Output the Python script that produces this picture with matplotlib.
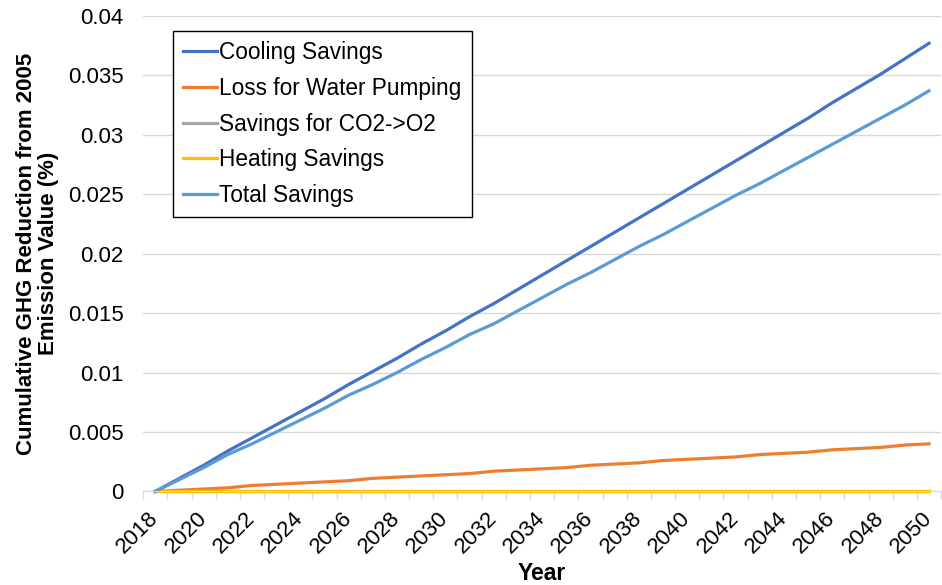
import matplotlib.pyplot as plt
import numpy as np

plt.rcParams['font.family'] = ['Liberation Sans', 'DejaVu Sans']

years = list(range(2018, 2051))

cooling = [0, 0.0011, 0.0022, 0.0034, 0.0045, 0.0056, 0.0067, 0.0078, 0.0090, 0.0101,
           0.0112, 0.0124, 0.0135, 0.0147, 0.0158, 0.0170, 0.0182, 0.0194, 0.0206, 0.0218,
           0.0230, 0.0242, 0.0254, 0.0266, 0.0278, 0.0290, 0.0302, 0.0314, 0.0327, 0.0339,
           0.0351, 0.0364, 0.0377]
pumping = [0, 0.0001, 0.0002, 0.0003, 0.0005, 0.0006, 0.0007, 0.0008, 0.0009, 0.0011,
           0.0012, 0.0013, 0.0014, 0.0015, 0.0017, 0.0018, 0.0019, 0.0020, 0.0022, 0.0023,
           0.0024, 0.0026, 0.0027, 0.0028, 0.0029, 0.0031, 0.0032, 0.0033, 0.0035, 0.0036,
           0.0037, 0.0039, 0.0040]
co2_o2 = [0] * 33
heating = [0] * 33
total = [0, 0.0010, 0.0020, 0.0031, 0.0040, 0.0050, 0.0060, 0.0070, 0.0081, 0.0090,
         0.0100, 0.0111, 0.0121, 0.0132, 0.0141, 0.0152, 0.0163, 0.0174, 0.0184, 0.0195,
         0.0206, 0.0216, 0.0227, 0.0238, 0.0249, 0.0259, 0.0270, 0.0281, 0.0292, 0.0303,
         0.0314, 0.0325, 0.0337]

x = np.arange(len(years))

fig = plt.figure(figsize=(9.42, 5.85), dpi=100)
ax = fig.add_axes([0.152, 0.16, 0.847, 0.8127])

lw = 2.3
ax.plot(x, cooling, c='#4472C4', lw=lw, label='Cooling Savings', clip_on=False)
ax.plot(x, pumping, c='#ED7D31', lw=lw, label='Loss for Water Pumping', clip_on=False)
ax.plot(x, co2_o2, c='#A5A5A5', lw=lw, label='Savings for CO2->O2', clip_on=False)
ax.plot(x, heating, c='#FFC000', lw=lw, label='Heating Savings', clip_on=False)
ax.plot(x, total, c='#5B9BD5', lw=lw, label='Total Savings', clip_on=False)

ax.set_xlim(-0.5, len(years) - 0.5)
ax.set_ylim(0, 0.04)

yt = [0, 0.005, 0.01, 0.015, 0.02, 0.025, 0.03, 0.035, 0.04]
ax.set_yticks(yt)
ax.set_yticklabels(['0', '0.005', '0.01', '0.015', '0.02', '0.025', '0.03', '0.035', '0.04'])
ax.tick_params(axis='y', length=0, pad=14, labelsize=16)

ax.set_xticks(x[::2])
ax.set_xticklabels([str(y) for y in years[::2]], rotation=45, ha='right',
                   va='center', rotation_mode='anchor')
ax.set_xticks(np.arange(-0.5, len(years), 1), minor=True)
ax.tick_params(axis='x', which='major', length=0, pad=17, labelsize=16)
ax.tick_params(axis='x', which='minor', length=6, color='#D9D9D9', width=1)

ax.grid(axis='y', color='#D9D9D9', lw=1)
ax.set_axisbelow(True)
for s in ['top', 'right', 'left']:
    ax.spines[s].set_visible(False)
ax.spines['bottom'].set_color('#D9D9D9')

ax.set_ylabel('Cumulative GHG Reduction from 2005\nEmission Value (%)',
              fontsize=16, fontweight='bold', linespacing=1.1)
ax.yaxis.set_label_coords(-0.105, 0.5)
ax.set_xlabel('Year', fontsize=16.5, fontweight='bold')
ax.xaxis.set_label_coords(0.5, -0.148)

leg = ax.legend(loc='upper left', bbox_to_anchor=(0.037, 0.968), fontsize=16.3,
                frameon=True, fancybox=False, edgecolor='black', framealpha=1,
                handlelength=1.5, handletextpad=0.1, labelspacing=0.56,
                borderaxespad=0, borderpad=0.45)
leg.get_frame().set_linewidth(1)

fig.savefig('out.png', dpi=100)
